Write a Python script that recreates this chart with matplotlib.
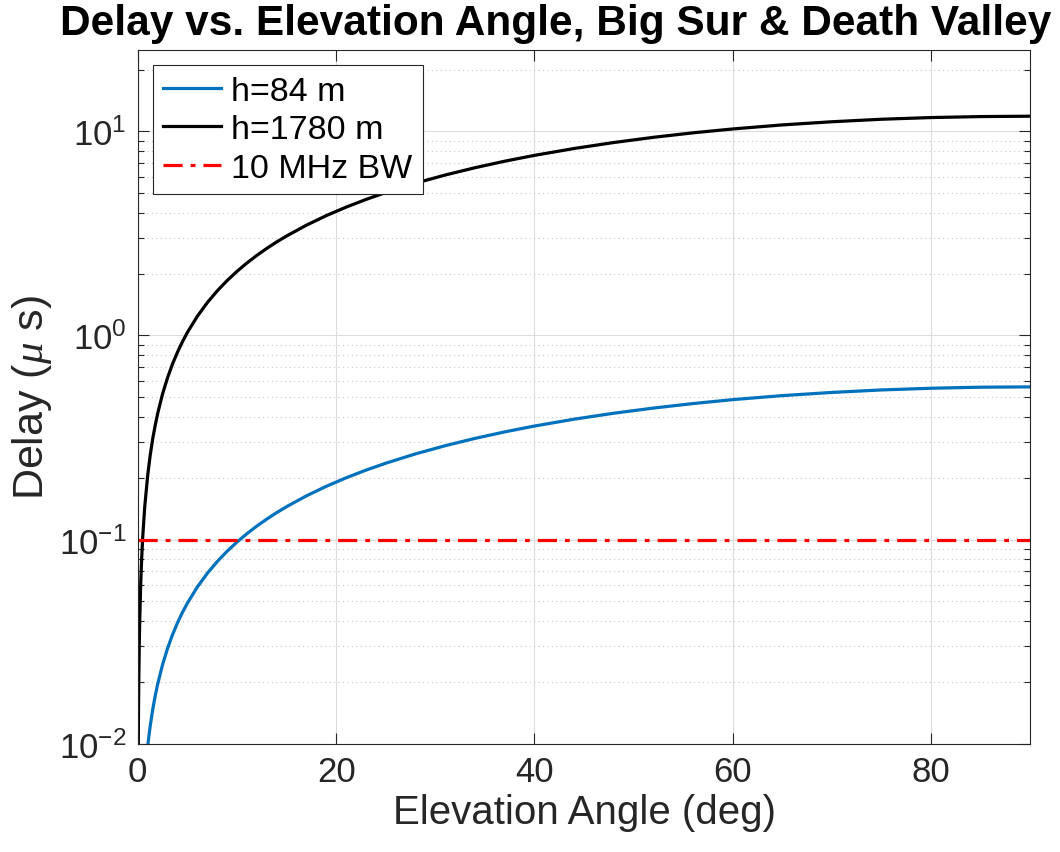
import numpy as np
import matplotlib.pyplot as plt
from matplotlib.ticker import LogLocator, NullFormatter

# values
ang_hi = [0.04, 0.07, 0.1, 0.15, 0.2, 0.3, 0.4, 0.5, 0.7, 1, 1.25, 1.5, 1.75, 2, 2.5, 3, 3.5, 4, 4.5, 5,
          6, 7, 8, 9, 10, 11, 12, 13, 14, 15, 17, 19, 21, 23, 25, 28, 31, 34, 37, 40, 44, 48, 52, 56, 60,
          65, 70, 75, 80, 85, 90]
delay_hi = [0.0083, 0.0145, 0.0207, 0.0311, 0.0414, 0.0622, 0.0829, 0.1036, 0.145, 0.207, 0.259, 0.311,
            0.362, 0.414, 0.518, 0.621, 0.725, 0.828, 0.931, 1.035, 1.241, 1.447, 1.652, 1.857, 2.061,
            2.265, 2.468, 2.670, 2.872, 3.072, 3.470, 3.865, 4.254, 4.638, 5.017, 5.573, 6.114, 6.638,
            7.144, 7.630, 8.246, 8.821, 9.354, 9.841, 10.28, 10.76, 11.15, 11.47, 11.69, 11.82, 11.87]
ang_lo = [0.8, 1, 1.25, 1.5, 1.75, 2, 2.5, 3, 3.5, 4, 4.5, 5, 6, 7, 8, 9, 10, 11, 12, 13, 14, 15, 17,
          19, 21, 23, 25, 28, 31, 34, 37, 40, 44, 48, 52, 56, 60, 65, 70, 75, 80, 85, 90]
delay_lo = [0.0078, 0.00977, 0.01221, 0.01466, 0.0171, 0.01954, 0.02443, 0.02931, 0.03419, 0.03907,
            0.04394, 0.04881, 0.05854, 0.06825, 0.07794, 0.0876, 0.09724, 0.10685, 0.11643, 0.12597,
            0.13548, 0.14494, 0.16373, 0.18232, 0.20069, 0.21881, 0.23667, 0.2629, 0.28842, 0.31315,
            0.33702, 0.36, 0.389, 0.416, 0.441, 0.464, 0.485, 0.5075, 0.526, 0.541, 0.5515, 0.558, 0.56]
bw_delay = 0.1
labels = ['h=84 m', 'h=1780 m', '10 MHz BW']

plt.rcParams['font.family'] = ['Liberation Sans', 'DejaVu Sans']
plt.rcParams['mathtext.fontset'] = 'custom'
plt.rcParams['mathtext.it'] = 'Liberation Serif:italic'

fig = plt.figure(figsize=(10.6, 8.53), dpi=100)
ax = fig.add_axes([0.130, 0.127, 0.842, 0.813])

ax.plot(ang_lo, delay_lo, color='#0072BD', lw=2.3, label=labels[0])
ax.plot(ang_hi, delay_hi, color='black', lw=2.3, label=labels[1])
ax.axhline(bw_delay, color='red', lw=2.3, ls='-.', dashes=(6, 2.5, 1.5, 2.5), label=labels[2])

ax.set_yscale('log')
ax.set_xlim(0, 90)
ax.set_ylim(0.01, 25)
ax.set_xticks([0, 20, 40, 60, 80])
ax.yaxis.set_major_locator(LogLocator(base=10))
ax.yaxis.set_minor_locator(LogLocator(base=10, subs=np.arange(2, 10)))
ax.yaxis.set_minor_formatter(NullFormatter())

ax.grid(True, which='major', color='#dcdcdc', lw=0.8)
ax.grid(True, which='minor', axis='y', color='#c8c8c8', lw=0.8, ls=(0, (1, 3)))
ax.set_axisbelow(True)

dark = '#262626'
for s in ax.spines.values():
    s.set_color(dark)
    s.set_linewidth(0.8)
ax.tick_params(which='both', direction='in', top=True, right=True, colors=dark, labelsize=25, width=0.8)
ax.tick_params(which='major', length=8, pad=8)
ax.tick_params(which='minor', length=4)

ax.set_xlabel('Elevation Angle (deg)', fontsize=29, color=dark, labelpad=4)
ax.set_ylabel(r'Delay ($\mu$ s)', fontsize=31, color=dark)
# title sits a little left of the axes centre in the reference
fig.text(0.5245, 0.995, 'Delay vs. Elevation Angle, Big Sur & Death Valley', fontsize=30.5,
         fontweight='bold', ha='center', va='top')

leg = ax.legend(loc='upper left', fontsize=24.5, frameon=True, fancybox=False, framealpha=1,
                edgecolor=dark, handlelength=1.7, borderaxespad=0.45, labelspacing=0.22,
                handletextpad=0.3, borderpad=0.3)
leg.get_frame().set_linewidth(0.8)

fig.savefig('out.png', dpi=100)
